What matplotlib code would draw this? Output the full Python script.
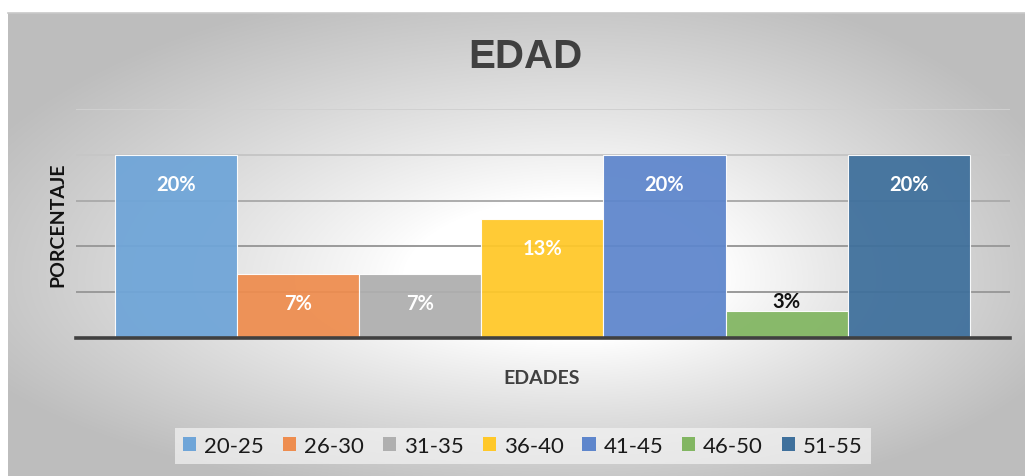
import numpy as np
import matplotlib
matplotlib.use("Agg")
import matplotlib.pyplot as plt
from matplotlib.patches import Patch

categories = ["20-25", "26-30", "31-35", "36-40", "41-45", "46-50", "51-55"]
values = [20, 7, 7, 13, 20, 3, 20]
labels = ["20%", "7%", "7%", "13%", "20%", "3%", "20%"]
colors = ["#6FA5D8", "#EE8D4F", "#AFAFAF", "#FFC829", "#5E86CC", "#82B662", "#3F709C"]
yticks = [0, 5, 10, 15, 20, 25]

W, H = 1025, 477
fig = plt.figure(figsize=(W / 100, H / 100), dpi=100)
fig.patch.set_facecolor("white")

# Chart-area background with radial gradient
bx0, by0 = 8, 14
bg = fig.add_axes([bx0 / W, 0, 1 - bx0 / W, (H - by0) / H])
bg.set_axis_off()
nx, ny = W - bx0, H - by0
xs = np.arange(nx) + bx0
ys = np.arange(ny) + by0
X, Y = np.meshgrid(xs, ys)
cx, cy = 580, 280
u = np.where(X < cx, (X - cx) / (cx - bx0), (X - cx) / (W - cx))
v = np.where(Y < cy, (Y - cy) / (cy - by0), (Y - cy) / (H - cy))
d = np.sqrt(u ** 2 + v ** 2) / np.sqrt(2)
t = np.clip((d - 0.22) / 0.6, 0, 1) ** 0.9
g = (255 - 66 * t) / 255.0
img = np.dstack([g, g, g])
bg.imshow(img, aspect="auto", extent=[0, 1, 0, 1], origin="upper", interpolation="bilinear")
bg.plot([0, 1], [1, 1], color="#C8C8C8", lw=1.2, transform=bg.transAxes, clip_on=False)

# Main axes
ax = fig.add_axes([76 / W, (H - 339) / H, (1010 - 76) / W, (339 - 110) / H])
ax.patch.set_alpha(0)
x = np.arange(len(categories))
bars = ax.bar(x, values, width=1.0, color=colors, edgecolor="white", linewidth=0.8,
              alpha=0.94, zorder=3)
ax.set_xlim(-0.82, 6.83)
ax.set_ylim(0, 25)
ax.set_yticks(yticks)
ax.set_xticks([])
ax.tick_params(axis="y", length=0, labelleft=False)
for s in ["top", "right", "left"]:
    ax.spines[s].set_visible(False)
ax.spines["bottom"].set_color("#404040")
ax.spines["bottom"].set_linewidth(2.6)
ax.spines["bottom"].set_zorder(5)
ax.yaxis.grid(True, color="#A0A0A0", linewidth=1.4, zorder=1)
ax.set_axisbelow(True)
gl = ax.get_ygridlines()
grid_cols = ["#A0A0A0", "#9A9A9A", "#9A9A9A", "#ACACAC", "#C6C6C6", "#D0D0D0"]
for line, c in zip(gl, grid_cols):
    line.set_color(c)

for xi, v_, lab in zip(x, values, labels):
    if v_ >= 5:
        ax.annotate(lab, (xi, v_), xytext=(0, -21), textcoords="offset points",
                    ha="center", va="center", color="white", fontsize=14.5,
                    fontweight="bold", family="Lato", zorder=6)
    else:
        ax.annotate(lab, (xi, v_), xytext=(0, 7), textcoords="offset points",
                    ha="center", va="center", color="#111111", fontsize=14.5,
                    fontweight="bold", family="Lato", zorder=6)

fig.text(525 / W, 1 - 57 / H, "EDAD", ha="center", va="center", fontsize=29,
         fontweight="bold", family="Liberation Sans", color="#404040")
fig.text(58 / W, 1 - 225 / H, "PORCENTAJE", ha="center", va="center", rotation=90,
         fontsize=14, fontweight="bold", family="Lato", color="#111111")
fig.text(542 / W, 1 - 378 / H, "EDADES", ha="center", va="center",
         fontsize=14, fontweight="bold", family="Lato", color="#404040")

handles = [Patch(facecolor=c, edgecolor="none") for c in colors]
leg = fig.legend(handles, categories, loc="center", bbox_to_anchor=(523 / W, 1 - 447 / H),
                 ncol=7, frameon=True, fancybox=False, prop={"family": "Lato", "size": 16},
                 handlelength=0.6, handleheight=0.6, handletextpad=0.35,
                 columnspacing=0.85, borderpad=0.35)
leg.get_frame().set_facecolor("#F4F4F4")
leg.get_frame().set_alpha(0.7)
leg.get_frame().set_edgecolor("none")
for t_ in leg.get_texts():
    t_.set_color("#1A1A1A")

fig.savefig("out.png", dpi=100)
